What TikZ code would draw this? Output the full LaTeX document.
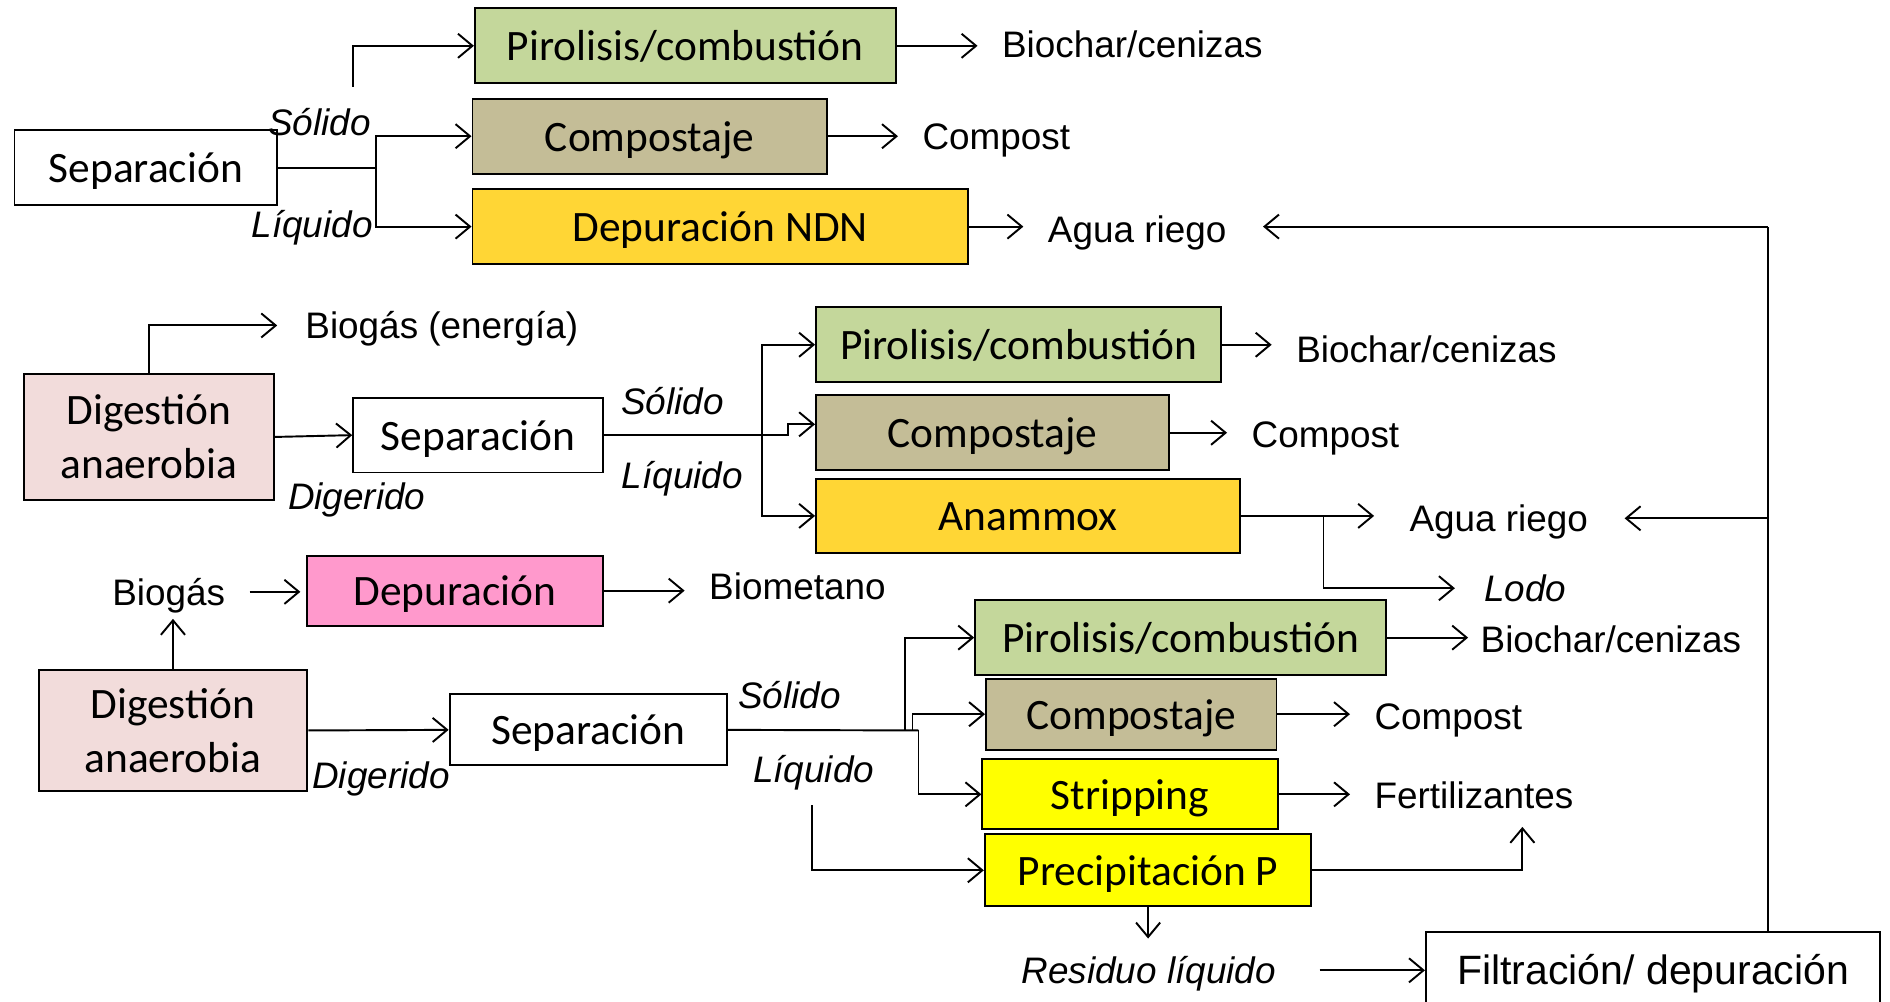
\documentclass[tikz,border=0pt]{standalone}
\usepackage{fontspec}
\setmainfont{Liberation Sans}
\newfontfamily\boxfont{Carlito}
\usepackage{tikz}
\usetikzlibrary{arrows.meta}
\definecolor{piro}{HTML}{C4D79B}
\definecolor{comp}{HTML}{C4BD97}
\definecolor{ndn}{HTML}{FFD635}
\definecolor{dig}{HTML}{F2DCDB}
\definecolor{depu}{HTML}{FF99CC}
\definecolor{nutr}{HTML}{FFFF00}
\tikzset{
  proc/.style={draw, line width=0.8pt, inner sep=0pt, minimum height=31pt, align=center, text height=14pt, text depth=1.6pt, font=\boxfont\fontsize{18}{22.5}\selectfont},
  twoline/.style={text height=, text depth=},
  flow/.style={-{Straight Barb[length=6pt,width=10pt]}, line width=0.8pt},
  link/.style={line width=0.8pt},
  outlbl/.style={inner sep=0pt, anchor=west, text height=13pt, text depth=2pt, font=\fontsize{15.3}{18}\selectfont},
  phase/.style={inner sep=0pt, text height=13pt, text depth=2pt, font=\itshape\fontsize{15.3}{18}\selectfont},
}

\begin{document}
\begin{tikzpicture}[x=0.5pt, y=-0.5pt]
\useasboundingbox (0,0) rectangle (1568,831);
% separacion directa
\node[proc, fill=white, minimum width=109pt] (sepA) at (121,139) {Separación};
\node[proc, fill=piro, minimum width=174.5pt] (piroA) at (568.5,38) {Pirolisis/combustión};
\node[proc, fill=comp, minimum width=147pt] (compA) at (539,113) {Compostaje};
\node[proc, fill=ndn, minimum width=205.5pt] (depA) at (597.5,188) {Depuración NDN};
\node[outlbl] (bioA) at (831,37) {Biochar/cenizas};
\node[outlbl] (cmpA) at (765,113) {Compost};
\node[outlbl] (aguaA) at (869,190) {Agua riego};
\node[phase] (solA) at (265,101) {Sólido};
\node[phase] (liqA) at (259,186) {Líquido};
\coordinate (jA) at (312,139);
\coordinate (sA) at (293,72);
\draw[link] (sepA.east) -- (jA);
\draw[flow] (jA) |- (compA.west);
\draw[flow] (jA) |- (depA.west);
\draw[flow] (sA) |- (piroA.west);
\draw[flow, shorten >=10pt] (piroA.east) -- (piroA.east -| bioA.west);
\draw[flow, shorten >=10pt] (compA.east) -- (compA.east -| cmpA.west);
\draw[flow, shorten >=10pt] (depA.east) -- (depA.east -| aguaA.west);

% digestion + separacion
\node[proc, twoline, fill=dig, minimum width=103.5pt, minimum height=52.5pt] (digB) at (123.5,362.5) {Digestión\\anaerobia};
\node[proc, fill=white, minimum width=103.5pt] (sepB) at (396.5,361) {Separación};
\node[proc, fill=piro, minimum width=168pt] (piroB) at (845,286) {Pirolisis/combustión};
\node[proc, fill=comp, minimum width=146.5pt] (compB) at (823.5,359) {Compostaje};
\node[proc, fill=ndn, minimum width=176pt] (anaB) at (853,428) {Anammox};
\node[outlbl] (energB) at (253,270) {Biogás (energía)};
\node[outlbl] (bioB) at (1075,290) {Biochar/cenizas};
\node[outlbl] (cmpB) at (1038,360) {Compost};
\node[outlbl] (aguaB) at (1169,430) {Agua riego};
\node[outlbl, font=\itshape\fontsize{15.3}{18}\selectfont] (lodoB) at (1231,488) {Lodo};
\node[phase] (digdB) at (296,412) {Digerido};
\node[phase] (solB) at (558,333) {Sólido};
\node[phase] (liqB) at (566,394) {Líquido};
\coordinate (jB) at (632,361);
\coordinate (kB) at (654,361);
\coordinate (lB) at (1098,429);
\draw[flow, shorten >=11.5pt] (digB.north) |- (energB.west);
\draw[flow] (digB.east) -- (sepB.west);
\draw[link] (sepB.east) -- (jB);
\draw[flow] (jB) |- (piroB.west);
\draw[flow] (jB) -- (kB) |- ([yshift=3.5pt]compB.west);
\draw[flow] (jB) |- (anaB.west);
\draw[flow, shorten >=10pt] (piroB.east) -- (piroB.east -| bioB.west);
\draw[flow, shorten >=10pt] (compB.east) -- (compB.east -| cmpB.west);
\draw[flow, shorten >=14.5pt] (anaB.east) -- (anaB.east -| aguaB.west);
\draw[flow, shorten >=12pt] (lB) |- (lodoB.west);

% biometano + recuperacion de nutrientes
\node[phase, font=\fontsize{15.3}{18}\selectfont] (bgC) at (140,491) {Biogás};
\node[proc, fill=depu, minimum width=122.5pt, minimum height=29pt] (depC) at (377.5,490) {Depuración};
\node[outlbl] (metC) at (588,486) {Biometano};
\node[proc, twoline, fill=dig, minimum width=111.5pt, minimum height=50pt] (digC) at (143.5,606) {Digestión\\anaerobia};
\node[proc, fill=white, minimum width=115pt, minimum height=29.5pt] (sepC) at (488,605.5) {Separación};
\node[proc, fill=piro, minimum width=170.5pt] (piroC) at (979.5,529) {Pirolisis/combustión};
\node[proc, fill=comp, minimum width=120.5pt, minimum height=29.5pt] (compC) at (938.5,592.5) {Compostaje};
\node[proc, fill=nutr, minimum width=122.5pt, minimum height=29pt] (strC) at (937.5,659) {Stripping};
\node[proc, fill=nutr, minimum width=135.5pt, minimum height=30pt] (precC) at (952.5,722) {Precipitación P};
\node[outlbl] (bioC) at (1228,530) {Biochar/cenizas};
\node[outlbl] (cmpC) at (1140,594) {Compost};
\node[outlbl] (fertC) at (1140,660) {Fertilizantes};
\node[phase] (digdC) at (316,643) {Digerido};
\node[phase] (solC) at (655,577) {Sólido};
\node[phase] (liqC) at (675,638) {Líquido};
\node[phase] (resC) at (953,805) {Residuo líquido};
\node[proc, fill=white, minimum width=188.5pt, font=\fontsize{17}{20}\selectfont] (filt) at (1371.5,804) {Filtración/ depuración};
\coordinate (jC1) at (751,606);
\coordinate (jC2) at (757,606);
\coordinate (jC3) at (762,606);
\coordinate (lqC) at (674,668);
\coordinate (fpC) at (1263,686);
\draw[flow, shorten >=3.5pt] (digC.north) -- (digC.north |- bgC.south);
\draw[flow, shorten <=10pt, shorten >=2.5pt] (bgC.east) -- (bgC.east -| depC.west);
\draw[flow, shorten >=10pt] (depC.east) -- (depC.east -| metC.west);
\draw[flow] (digC.east) -- (sepC.west);
\draw[link] (sepC.east) -- (jC3);
\draw[flow] (jC1) |- (piroC.west);
\draw[flow] (jC2) |- (compC.west);
\draw[flow] (jC3) |- (strC.west);
\draw[flow] (lqC) |- (precC.west);
\draw[flow, shorten >=5pt] (piroC.east) -- (piroC.east -| bioC.west);
\draw[flow, shorten >=10pt] (compC.east) -- (compC.east -| cmpC.west);
\draw[flow, shorten >=10pt] (strC.east) -- (strC.east -| fertC.west);
\draw[flow] (precC.east) -| (fpC);
\draw[flow, shorten >=5.5pt] (precC.south) -- (precC.south |- resC.north);
\draw[flow, shorten <=18pt] (resC.east) -- (resC.east -| filt.west);

% retorno de agua
\coordinate (fbA) at (1467,188);
\coordinate (fbB) at (1467,430);
\draw[link] (filt.north -| fbA) -- (fbA);
\draw[flow, shorten >=15pt] (fbA) -- (fbA -| aguaA.east);
\draw[flow, shorten >=15pt] (fbB) -- (fbB -| aguaB.east);
\end{tikzpicture}
\end{document}
